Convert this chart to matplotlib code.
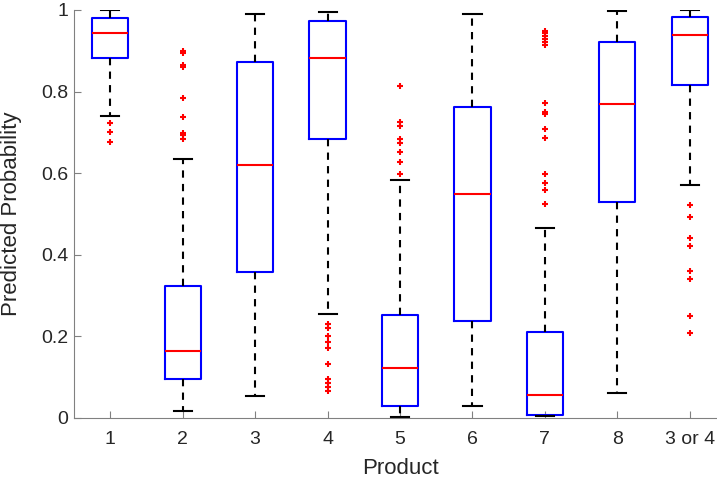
import matplotlib
matplotlib.use("Agg")
import matplotlib.pyplot as plt

plt.rcParams['font.family'] = ['Liberation Sans', 'DejaVu Sans']

# product labels
labels = ['1', '2', '3', '4', '5', '6', '7', '8', '3 or 4']

# box statistics
q1 = [0.883, 0.095, 0.357, 0.683, 0.029, 0.237, 0.007, 0.529, 0.816]
med = [0.943, 0.165, 0.619, 0.882, 0.122, 0.550, 0.056, 0.770, 0.938]
q3 = [0.981, 0.323, 0.873, 0.974, 0.252, 0.763, 0.211, 0.921, 0.984]
whislo = [0.741, 0.017, 0.053, 0.255, 0.003, 0.030, 0.004, 0.062, 0.572]
whishi = [1.000, 0.634, 0.989, 0.996, 0.583, 0.989, 0.465, 0.998, 1.000]

# outliers per product
fliers = [
    [0.722, 0.700, 0.677],
    [0.900, 0.894, 0.865, 0.861, 0.785, 0.738, 0.699, 0.694, 0.683],
    [],
    [0.230, 0.220, 0.201, 0.187, 0.171, 0.132, 0.095, 0.085, 0.075, 0.065],
    [0.814, 0.726, 0.716, 0.683, 0.673, 0.651, 0.627, 0.597],
    [],
    [0.949, 0.943, 0.936, 0.928, 0.921, 0.913, 0.773, 0.749, 0.745,
     0.709, 0.687, 0.598, 0.577, 0.558, 0.524],
    [],
    [0.522, 0.493, 0.442, 0.422, 0.361, 0.341, 0.251, 0.209],
]

stats = []
for i in range(len(labels)):
    stats.append({'label': labels[i], 'q1': q1[i], 'med': med[i], 'q3': q3[i],
                  'whislo': whislo[i], 'whishi': whishi[i], 'fliers': fliers[i]})

fig = plt.figure(figsize=(7.17, 4.8), dpi=100)
ax = fig.add_axes([74 / 717, 62 / 480, 652 / 717, 408 / 480])

ax.bxp(stats, widths=0.5, capwidths=0.25, showfliers=True,
       boxprops=dict(color='#0000ff', linewidth=1.5),
       medianprops=dict(color='#ff0000', linewidth=1.5),
       whiskerprops=dict(color='black', linewidth=1.5, linestyle=(0, (3.5, 3))),
       capprops=dict(color='black', linewidth=1.5),
       flierprops=dict(marker='+', markeredgecolor='#ff0000', markersize=5,
                       markeredgewidth=1.5, linestyle='none'))

ax.set_xlim(0.5, 9.5)
ax.set_ylim(0, 1)
ax.set_yticks([0, 0.2, 0.4, 0.6, 0.8, 1])
ax.set_yticklabels(['0', '0.2', '0.4', '0.6', '0.8', '1'])
for s in ['top', 'right']:
    ax.spines[s].set_visible(False)
for s in ['left', 'bottom']:
    ax.spines[s].set_color('#808080')
ax.tick_params(direction='in', colors='#808080', labelcolor='#262626',
               labelsize=14, length=5)
ax.tick_params(axis='x', pad=9)
ax.tick_params(axis='y', pad=4)
ax.set_xlabel('Product', fontsize=16, color='#262626')
ax.set_ylabel('Predicted Probability', fontsize=16, color='#262626')
ax.xaxis.set_label_coords(0.5, -40 / 408)
ax.yaxis.set_label_coords(-52 / 652, 0.5)

fig.savefig('out.png', dpi=100)
